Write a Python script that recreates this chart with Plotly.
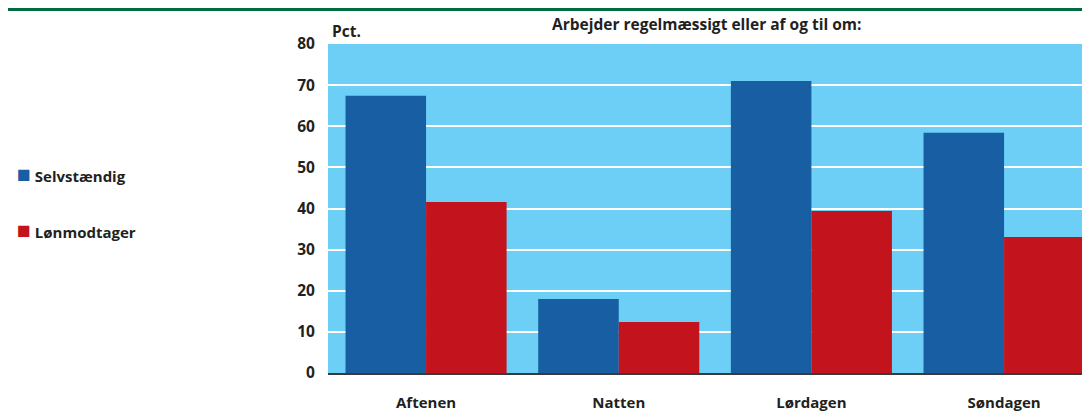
import plotly.graph_objects as go

categories = ["Aftenen", "Natten", "Lørdagen", "Søndagen"]
selvstaendig = [67.4, 18.0, 71.0, 58.4]
loenmodtager = [41.6, 12.4, 39.4, 33.1]
y_ticks = [0, 10, 20, 30, 40, 50, 60, 70, 80]

blue = "#175ea2"
red = "#c3141d"
sky = "#6dcff6"
green = "#006b3f"
ink = "#231f20"
font_family = "Open Sans, sans-serif"

fig = go.Figure()

fig.add_trace(go.Bar(x = categories, y = selvstaendig, name = "Selvstændig",
                     marker = dict(color = blue, line = dict(width = 0))))
fig.add_trace(go.Bar(x = categories, y = loenmodtager, name = "Lønmodtager",
                     marker = dict(color = red, line = dict(width = 0))))

# page body adds an 8px offset, so the figure is 8px smaller than the window
fig.update_layout(width = 1082,
                  height = 406,
                  margin = dict(l = 320, r = 0, t = 36, b = 41, autoexpand = False),
                  paper_bgcolor = "white",
                  plot_bgcolor = sky,
                  barmode = "group",
                  bargap = 0.164,
                  bargroupgap = 0,
                  showlegend = False,
                  font = dict(family = font_family, size = 15, color = ink),
                  shapes = [dict(type = "rect", xref = "paper", yref = "paper",
                                 x0 = -0.42, x1 = 1.0, y0 = 1.1003, y1 = 1.1094,
                                 fillcolor = green, line = dict(width = 0))],
                  annotations = [
                      dict(text = "<b>Arbejder regelmæssigt eller af og til om:</b>",
                           x = 0.497, y = 1.0, xref = "paper", yref = "paper",
                           xanchor = "center", yanchor = "bottom", yshift = 7,
                           showarrow = False, font = dict(size = 15.5)),
                      dict(text = "<b>Pct.</b>",
                           x = 0.002, y = 1.0, xref = "paper", yref = "paper",
                           xanchor = "left", yanchor = "bottom", yshift = 0,
                           showarrow = False, font = dict(size = 15.5)),
                      dict(text = "<span style='color:%s;font-size:23px'>■</span> <b>Selvstændig</b>" % blue,
                           x = -0.411, y = 0.608, xref = "paper", yref = "paper",
                           xanchor = "left", yanchor = "middle",
                           showarrow = False, font = dict(size = 15)),
                      dict(text = "<span style='color:%s;font-size:23px'>■</span> <b>Lønmodtager</b>" % red,
                           x = -0.411, y = 0.4375, xref = "paper", yref = "paper",
                           xanchor = "left", yanchor = "middle",
                           showarrow = False, font = dict(size = 15)),
                  ])

fig.update_xaxes(range = [-0.509, 3.446],
                 automargin = False,
                 showgrid = False,
                 showline = True, linecolor = "#3a3a3a", linewidth = 2,
                 ticks = "outside", ticklen = 15, tickcolor = "rgba(0,0,0,0)",
                 tickfont = dict(size = 15),
                 tickprefix = "<b>", ticksuffix = "</b>")

fig.update_yaxes(range = [0, 80],
                 automargin = False,
                 tickvals = y_ticks,
                 ticktext = ["<b>%d</b>" % v for v in y_ticks],
                 showgrid = True, gridcolor = "white", gridwidth = 2,
                 zeroline = False,
                 ticks = "outside", ticklen = 9, tickcolor = "rgba(0,0,0,0)",
                 tickfont = dict(size = 15.5))

# no scrollbars, so the figure can run to the window's edge
fig.write_html("out.html", post_script = "document.body.style.overflow = 'hidden';")
